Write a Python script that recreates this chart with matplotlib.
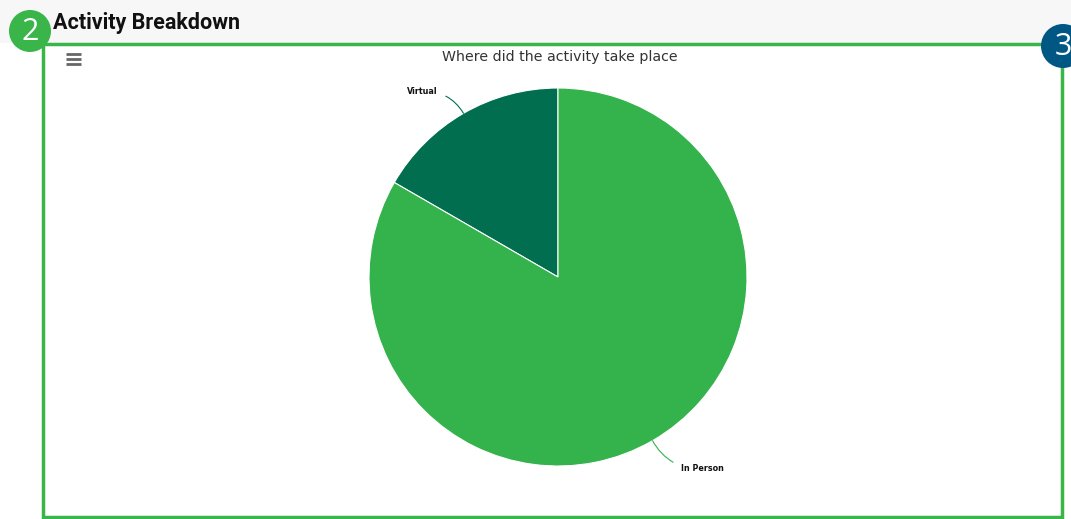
import numpy as np
import matplotlib.pyplot as plt
from matplotlib.patches import Circle, Rectangle

categories = ['Virtual', 'In Person']
values = [1, 5]
colors = ['#006e4f', '#34b24c']
title = 'Where did the activity take place'
heading = 'Activity Breakdown'

W, H = 1071, 519
fig = plt.figure(figsize=(W / 100, H / 100), dpi=100)
fig.patch.set_facecolor('white')

# overlay axes in pixel units for the page decoration
bg = fig.add_axes([0, 0, 1, 1], zorder=0)
bg.set_xlim(0, W)
bg.set_ylim(H, 0)
bg.set_axis_off()

bg.add_patch(Rectangle((0, 0), W, 43, facecolor='#f7f7f7', edgecolor='none'))
bg.text(53, 23, heading, fontsize=15.5, fontweight='bold', family='Roboto',
        color='#111111', va='center', ha='left')

# green panel border
bg.add_patch(Rectangle((43, 44), 1062 - 43, 517 - 44, facecolor='white',
                       edgecolor='#39b54a', linewidth=2.5))

# hamburger menu icon
for y in (54, 59, 64):
    bg.plot([66, 81], [y, y], color='#666666', linewidth=2, solid_capstyle='butt')

bg.text(560, 57, title, fontsize=10.2, color='#333333', family='DejaVu Sans',
        ha='center', va='center')

# pie
cx, cy, r = 558, 277, 189
ax = fig.add_axes([(cx - r) / W, (H - cy - r) / H, 2 * r / W, 2 * r / H], zorder=2)
ax.set_axis_off()
wedges, _ = ax.pie(values, colors=colors, startangle=90, counterclock=True,
                   wedgeprops=dict(edgecolor='white', linewidth=0.8), radius=1)
ax.set_xlim(-1, 1)
ax.set_ylim(-1, 1)

label_pos = {'Virtual': (-0.635, 0.98, 'right', 'arc3,rad=-0.3'),
             'In Person': (0.65, -1.015, 'left', 'arc3,rad=-0.3')}
for w, name, col in zip(wedges, categories, colors):
    ang = np.deg2rad((w.theta1 + w.theta2) / 2)
    ex, ey = np.cos(ang), np.sin(ang)
    tx, ty, ha, cs = label_pos[name]
    ax.annotate(name, xy=(ex, ey), xytext=(tx, ty), ha=ha, va='center',
                fontsize=5.8, fontweight='bold', color='#111111', annotation_clip=False,
                arrowprops=dict(arrowstyle='-', color=col, linewidth=0.8,
                                connectionstyle=cs, shrinkA=4, shrinkB=0))

# numbered badges on top
top = fig.add_axes([0, 0, 1, 1], zorder=5)
top.set_xlim(0, W)
top.set_ylim(H, 0)
top.set_axis_off()
top.patch.set_alpha(0)
for bx, by, br, col, num in [(30, 31, 21, '#39b54a', '2'), (1063, 46, 22, '#005784', '3')]:
    top.add_patch(Circle((bx, by), br, facecolor=col, edgecolor='none'))
    top.text(bx, by + 1, num, fontsize=22, color='white', family='Open Sans',
             ha='center', va='center')

fig.savefig('out.png', dpi=100)
